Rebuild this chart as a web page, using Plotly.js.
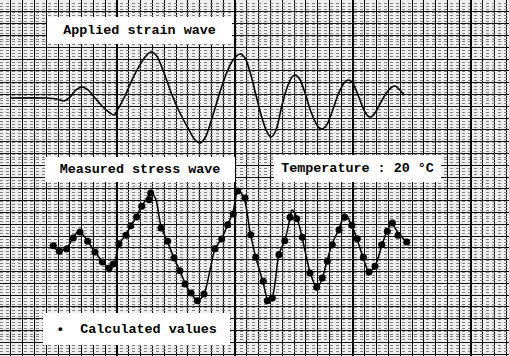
<!DOCTYPE html>
<html>
<head>
<meta charset="utf-8">
<script src="https://cdn.plot.ly/plotly-3.0.1.min.js"></script>
<style>html,body{margin:0;padding:0;background:#fff;}#chart{width:509px;height:356px;}</style>
</head>
<body>
<div id="chart"></div>
<script>
// Time axis in chart divisions; amplitudes in divisions from each wave's baseline
const strainTime = [0.85,3.81,4.83,5.42,5.93,6.44,6.95,7.46,8.05,8.73,9.32,9.66,10.00,10.59,11.19,11.86,12.37,12.80,13.22,13.81,14.58,15.25,15.93,16.53,16.95,17.37,17.97,18.64,19.24,19.75,20.34,20.76,21.19,21.69,22.20,22.63,22.97,23.39,23.90,24.41,24.75,25.00,25.34,25.85,26.36,26.86,27.20,27.63,28.14,28.64,29.15,29.49,29.83,30.34,30.85,31.19,31.44,31.78,32.29,32.80,33.22,33.47,33.81,34.24];
const strainValues = [0,0,-0.08,-0.25,0.08,0.68,0.93,0.68,0,-0.76,-1.27,-1.44,-0.93,0.17,1.53,2.80,3.56,3.90,3.64,2.37,0.25,-1.27,-2.54,-3.56,-3.81,-3.39,-1.69,0.51,2.20,3.22,3.73,3.39,2.20,0.25,-1.69,-2.88,-3.31,-2.71,-0.59,1.10,1.78,1.95,1.69,0.42,-1.19,-2.29,-2.63,-2.37,-1.19,0.25,1.27,1.53,1.36,0.25,-1.02,-1.53,-1.61,-1.27,-0.34,0.51,0.93,1.02,0.76,0.25];

const stressTime = [4.24,4.92,5.59,6.19,6.69,7.37,8.05,8.73,9.24,9.66,10.08,10.68,11.19,11.61,12.03,12.46,12.80,13.22,13.64,14.24,14.75,15.25,15.76,16.27,16.78,17.29,17.80,18.22,18.81,19.32,19.75,20.17,20.68,21.19,21.69,22.29,22.71,23.05,23.64,24.15,24.58,24.75,25.17,25.59,26.27,26.86,27.29,27.71,28.14,28.73,29.24,29.83,30.25,30.76,31.27,31.78,32.37,32.80,33.22,33.73,34.49];
const stressValues = [0.08,-0.34,-0.25,0.68,1.27,0.51,-0.51,-1.36,-1.86,-1.53,0.08,1.02,1.86,2.63,3.39,4.07,4.58,3.90,1.69,0.25,-1.02,-2.12,-3.31,-4.15,-4.58,-4.07,-2.03,-0.25,0.68,1.86,2.88,4.75,4.07,1.19,-1.02,-3.05,-4.58,-4.41,-0.68,0.51,2.37,3.05,2.37,0.76,-2.20,-3.56,-2.80,-1.27,0.17,1.44,2.71,1.69,0.59,-0.93,-2.20,-1.69,0.08,1.27,1.86,1.10,0.34];

const calcTime = [4.52,5.03,5.65,6.21,6.78,7.43,8.05,8.67,9.26,9.60,10.08,10.68,11.08,11.58,12.01,12.65,12.77,13.64,14.21,14.75,15.25,15.68,16.19,16.72,17.29,18.22,18.79,19.30,19.77,20.14,20.76,21.25,21.67,22.31,22.65,23.08,23.64,24.13,24.58,25.14,25.62,26.27,26.84,27.31,27.74,28.16,28.73,29.21,29.81,30.28,30.79,31.27,31.78,32.35,32.82,33.25,33.73,34.47];
const calcValues = [0.03,-0.45,-0.25,0.68,1.19,0.40,-0.51,-1.36,-1.86,-1.53,0.19,0.91,1.72,2.46,3.36,3.92,4.49,1.53,0.40,-1.02,-2.09,-3.22,-3.98,-4.64,-4.07,-0.23,0.59,1.81,2.71,4.66,4.07,0.96,-0.96,-2.99,-4.64,-4.41,-0.74,0.45,2.43,2.31,0.74,-2.29,-3.50,-2.71,-1.30,0.11,1.38,2.43,1.75,0.62,-0.96,-2.20,-1.72,0.11,1.25,1.95,0.91,0.34];

const labels = ["Applied strain wave", "Measured stress wave", "Temperature : 20 \u00b0C", "\u2022\u00a0\u00a0Calculated values"];

// layout geometry (pixels)
const W = 509, H = 356, PX = 11.8;
const strainBase = 98, stressBase = 246, gridRefPx = 354;
const fullY = H / PX;
function rangeFor(basePx) { const below = (H - basePx) / PX; return [-below, fullY - below]; }

const traces = [
  {x: strainTime, y: strainValues, xaxis: 'x', yaxis: 'y', mode: 'lines', line: {color: '#000', width: 1.6, shape: 'spline', smoothing: 1}, hoverinfo: 'skip'},
  {x: stressTime, y: stressValues, xaxis: 'x', yaxis: 'y2', mode: 'lines', line: {color: '#000', width: 1.5, shape: 'spline', smoothing: 0.8}, hoverinfo: 'skip'},
  {x: calcTime, y: calcValues, xaxis: 'x', yaxis: 'y2', mode: 'markers', marker: {color: '#000', size: 7, symbol: 'circle'}, hoverinfo: 'skip'}
];

const font = {family: 'Liberation Mono, Courier New, monospace', size: 13.4, color: '#000', weight: 'bold'};
function box(text, x0, x1, y0, y1) {
  return {text: text, xref: 'paper', yref: 'paper', x: (x0 + x1) / 2 / W, y: 1 - (y0 + y1) / 2 / H,
    xanchor: 'center', yanchor: 'middle', showarrow: false, width: x1 - x0, height: y1 - y0,
    bgcolor: '#fff', borderpad: 0, borderwidth: 0, font: font, align: 'center', valign: 'middle'};
}

const layout = {
  width: W, height: H, margin: {l: 0, r: 0, t: 0, b: 0},
  paper_bgcolor: '#fff', plot_bgcolor: '#eeeeee', showlegend: false,
  xaxis: {range: [0, W / PX], showgrid: true, dtick: 10, tick0: 117 / PX, gridcolor: '#000', gridwidth: 2,
    minor: {dtick: 1, tick0: 117 / PX, showgrid: true, gridcolor: '#000', gridwidth: 1},
    zeroline: false, showticklabels: false, ticks: '', showline: false},
  yaxis: {range: rangeFor(strainBase), showgrid: true, dtick: 1, tick0: (strainBase - gridRefPx) / PX, gridcolor: '#111', gridwidth: 1,
    minor: {dtick: 0.25, showgrid: true, gridcolor: '#808080', gridwidth: 1, griddash: 'dot'},
    zeroline: false, showticklabels: false, ticks: '', showline: false},
  yaxis2: {overlaying: 'y', range: rangeFor(stressBase), showgrid: false, zeroline: false, showticklabels: false, ticks: '', showline: false},
  annotations: [
    box(labels[0], 47, 232, 17, 44),
    box(labels[1], 45, 235, 157, 182),
    box(labels[2], 274, 441, 155, 182),
    box(labels[3], 43, 230, 313, 345)
  ]
};

Plotly.newPlot('chart', traces, layout, {staticPlot: true, displayModeBar: false});
</script>
</body>
</html>
